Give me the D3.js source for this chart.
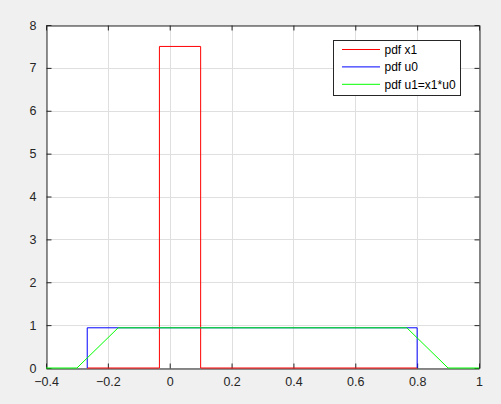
<!DOCTYPE html>
<html><head><meta charset="utf-8">
<script src="https://cdn.jsdelivr.net/npm/d3@7"></script>
<style>body{margin:0;background:#f0f0f0;}svg{display:block;}</style>
</head><body>
<script>
const xTicks = [-0.4, -0.2, 0, 0.2, 0.4, 0.6, 0.8, 1];
const yTicks = [0, 1, 2, 3, 4, 5, 6, 7, 8];
const seriesNames = ["pdf x1", "pdf u0", "pdf u1=x1*u0"];
const seriesColors = ["#ff0000", "#0000ff", "#00ff00"];
// pdf x1 (red)
const x1X = [-0.2667, -0.0333, -0.0333, 0.1, 0.1, 0.8];
const x1Y = [0, 0, 7.5, 7.5, 0, 0];
// pdf u0 (blue)
const u0X = [-0.2667, -0.2667, 0.8, 0.8];
const u0Y = [0, 0.9375, 0.9375, 0];
// pdf u1 (green)
const u1X = [-0.4, -0.3, -0.1667, 0.7667, 0.9, 1];
const u1Y = [0, 0, 0.9375, 0.9375, 0, 0];

const W = 501, H = 404;
const L = 46, R = 479, T = 25, B = 368;
const svg = d3.select("body").append("svg").attr("width", W).attr("height", H);
svg.append("rect").attr("width", W).attr("height", H).attr("fill", "#f0f0f0");
const x = d3.scaleLinear().domain([-0.4, 1]).range([L, R]);
const y = d3.scaleLinear().domain([0, 8]).range([B, T]);

svg.append("rect").attr("x", L).attr("y", T).attr("width", R - L).attr("height", B - T).attr("fill", "#fff");

// grid
const g = svg.append("g").attr("stroke", "#dfdfdf").attr("stroke-width", 1);
xTicks.forEach(t => g.append("line").attr("x1", Math.round(x(t)) + 0.5).attr("x2", Math.round(x(t)) + 0.5).attr("y1", T).attr("y2", B));
yTicks.forEach(t => g.append("line").attr("y1", Math.round(y(t)) + 0.5).attr("y2", Math.round(y(t)) + 0.5).attr("x1", L).attr("x2", R));

// axes
const axisColor = "#262626";
const xb = svg.append("g").attr("transform", `translate(0,${B + 0.5})`)
  .call(d3.axisBottom(x).tickValues(xTicks).tickSize(-5).tickSizeOuter(0).tickPadding(9).tickFormat(d3.format("")));
const xt = svg.append("g").attr("transform", `translate(0,${T + 0.5})`)
  .call(d3.axisTop(x).tickValues(xTicks).tickSize(-5).tickSizeOuter(0).tickFormat(""));
const yl = svg.append("g").attr("transform", `translate(${L + 0.5},0)`)
  .call(d3.axisLeft(y).tickValues(yTicks).tickSize(-5).tickSizeOuter(0).tickPadding(10).tickFormat(d3.format("")));
const yr = svg.append("g").attr("transform", `translate(${R + 0.5},0)`)
  .call(d3.axisRight(y).tickValues(yTicks).tickSize(-5).tickSizeOuter(0).tickFormat(""));
[xb, xt, yl, yr].forEach(a => {
  a.select(".domain").attr("stroke", axisColor);
  a.selectAll(".tick line").attr("stroke", axisColor);
  a.selectAll(".tick text").attr("fill", axisColor).attr("font-family", "Liberation Sans, Arial, sans-serif").attr("font-size", 12.5);
});

// series (drawn over axes, as in reference)
const line = d3.line().x(d => x(d[0])).y(d => y(d[1]));
const series = [[x1X, x1Y], [u0X, u0Y], [u1X, u1Y]];
series.forEach((s, i) => {
  const pts = s[0].map((v, j) => [v, s[1][j]]);
  svg.append("path").attr("d", line(pts)).attr("fill", "none")
    .attr("stroke", seriesColors[i]).attr("stroke-width", 1);
});

// legend
const lg = svg.append("g");
lg.append("rect").attr("x", 333.5).attr("y", 40.5).attr("width", 127).attr("height", 55).attr("fill", "#fff").attr("stroke", axisColor);
seriesNames.forEach((n, i) => {
  const yy = 49.5 + i * 17.4;
  lg.append("line").attr("x1", 342).attr("x2", 380).attr("y1", yy).attr("y2", yy).attr("stroke", seriesColors[i]);
  lg.append("text").attr("x", 384.5).attr("y", yy + 4.5).text(n).attr("font-family", "Liberation Sans, Arial, sans-serif").attr("font-size", 12).attr("fill", "#000");
});
</script>
</body></html>
